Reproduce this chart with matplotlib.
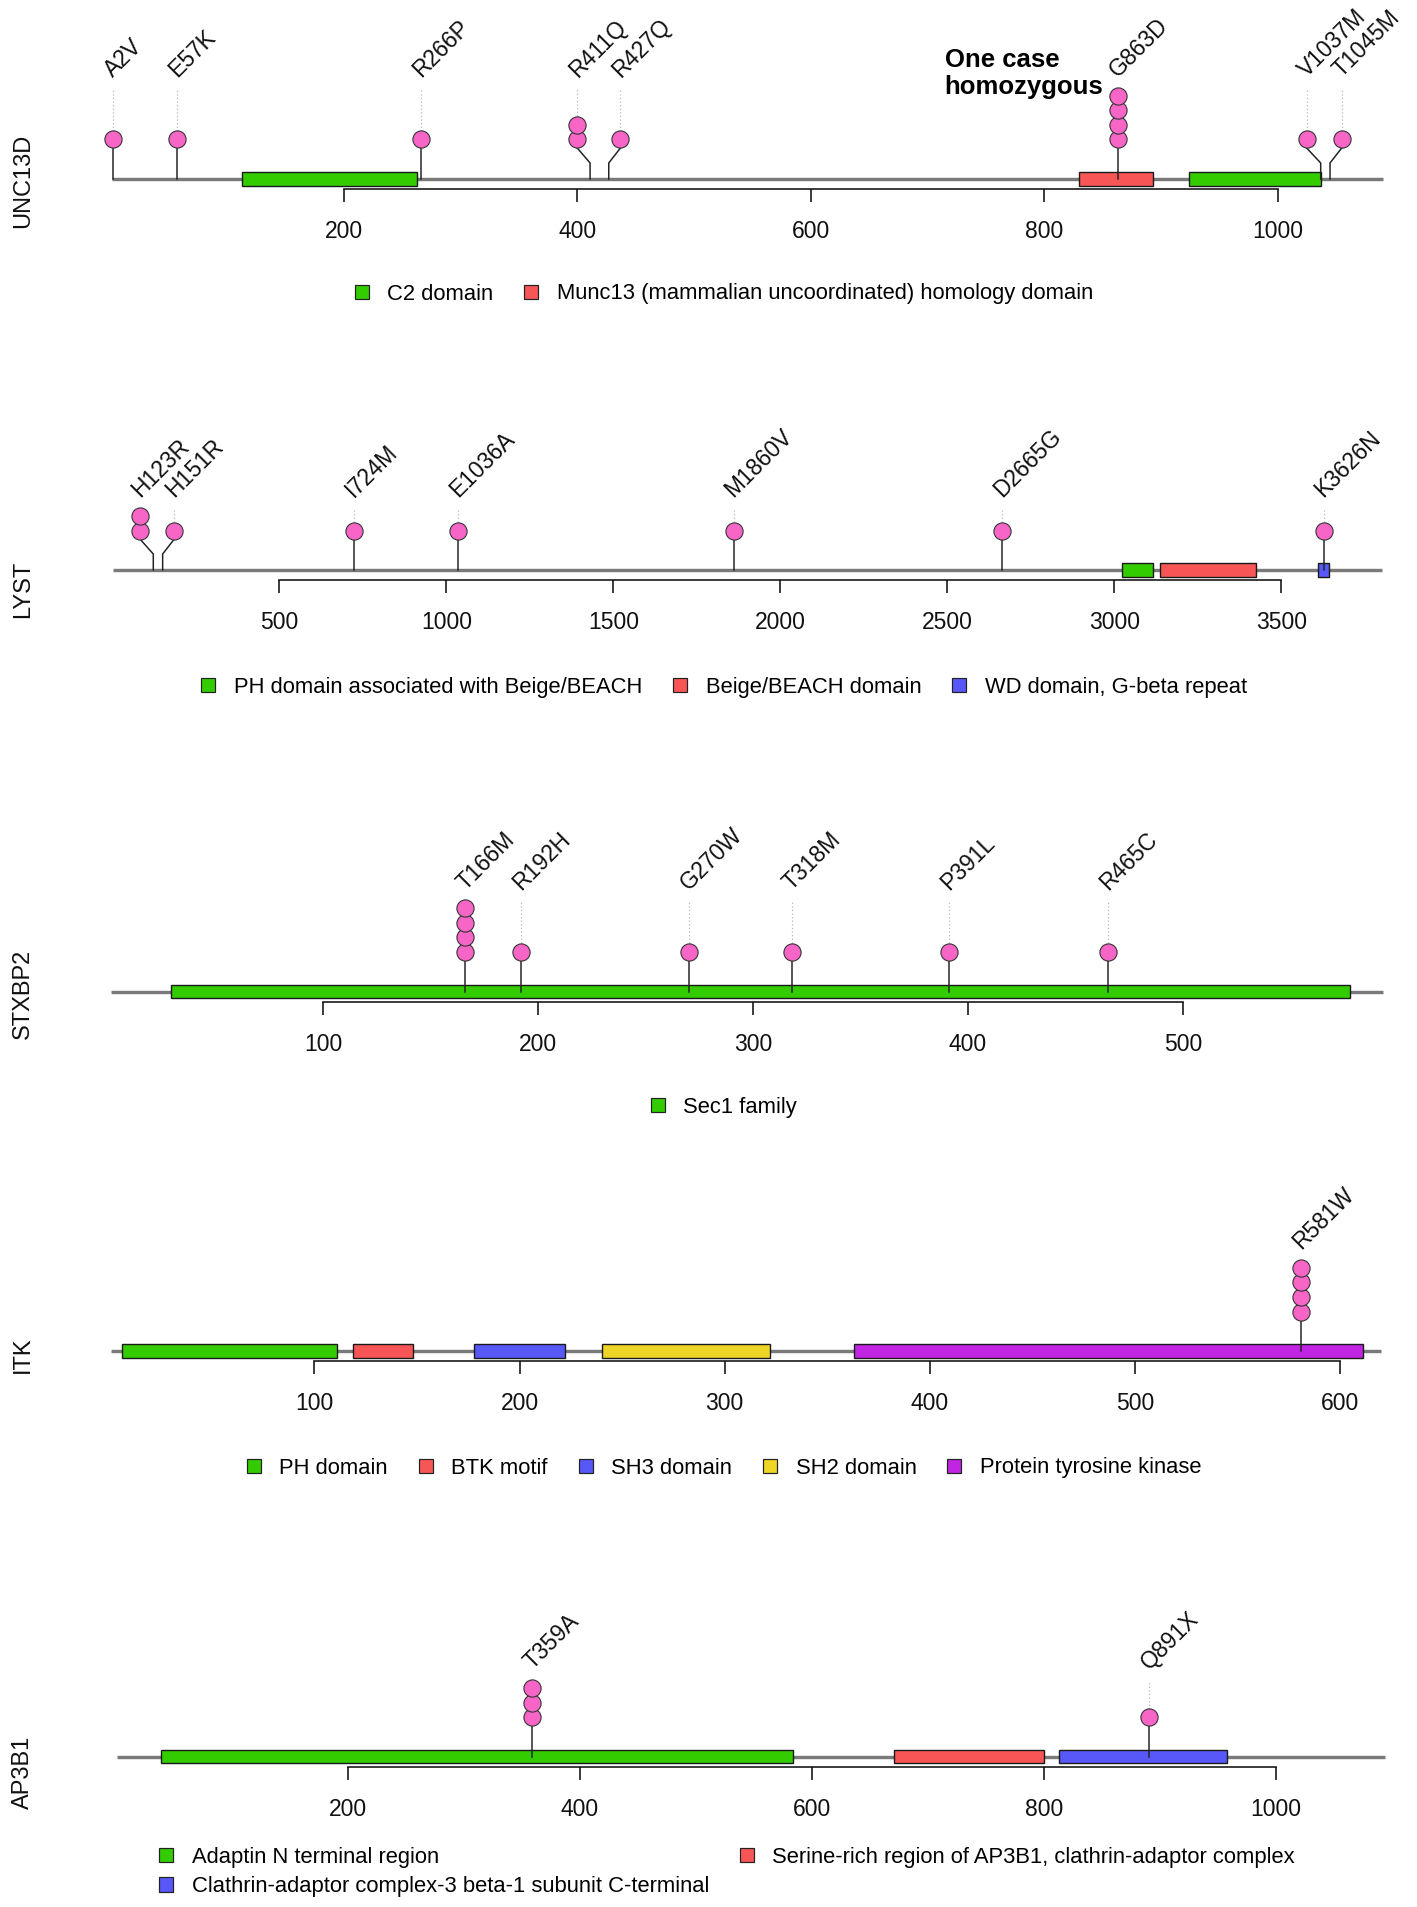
import matplotlib
matplotlib.use('Agg')
import matplotlib.pyplot as plt
from matplotlib.patches import Rectangle
import numpy as np

plt.rcParams['font.family'] = ['Liberation Sans', 'DejaVu Sans']

# ---------------- DATA ----------------
# UNC13D
UNC13D_length = 1090
UNC13D_mut_labels = ['A2V', 'E57K', 'R266P', 'R411Q', 'R427Q', 'G863D', 'V1037M', 'T1045M']
UNC13D_mut_pos = [2, 57, 266, 411, 427, 863, 1037, 1045]
UNC13D_mut_count = [1, 1, 1, 2, 1, 4, 1, 1]
UNC13D_mut_shown = [2, 57, 266, 400, 437, 863, 1025, 1055]
UNC13D_dom_names = ['C2 domain', 'Munc13 (mammalian uncoordinated) homology domain', 'C2 domain']
UNC13D_dom_start = [113, 830, 924]
UNC13D_dom_end = [263, 893, 1037]
UNC13D_ticks = [200, 400, 600, 800, 1000]

# LYST
LYST_length = 3801
LYST_mut_labels = ['H123R', 'H151R', 'I724M', 'E1036A', 'M1860V', 'D2665G', 'K3626N']
LYST_mut_pos = [123, 151, 724, 1036, 1860, 2665, 3626]
LYST_mut_count = [2, 1, 1, 1, 1, 1, 1]
LYST_mut_shown = [83, 186, 724, 1036, 1860, 2665, 3626]
LYST_dom_names = ['PH domain associated with Beige/BEACH', 'Beige/BEACH domain', 'WD domain, G-beta repeat']
LYST_dom_start = [3024, 3137, 3608]
LYST_dom_end = [3116, 3424, 3643]
LYST_ticks = [500, 1000, 1500, 2000, 2500, 3000, 3500]

# STXBP2
STXBP2_length = 593
STXBP2_mut_labels = ['T166M', 'R192H', 'G270W', 'T318M', 'P391L', 'R465C']
STXBP2_mut_pos = [166, 192, 270, 318, 391, 465]
STXBP2_mut_count = [4, 1, 1, 1, 1, 1]
STXBP2_mut_shown = [166, 192, 270, 318, 391, 465]
STXBP2_dom_names = ['Sec1 family']
STXBP2_dom_start = [29]
STXBP2_dom_end = [578]
STXBP2_ticks = [100, 200, 300, 400, 500]

# ITK
ITK_length = 620
ITK_mut_labels = ['R581W']
ITK_mut_pos = [581]
ITK_mut_count = [4]
ITK_mut_shown = [581]
ITK_dom_names = ['PH domain', 'BTK motif', 'SH3 domain', 'SH2 domain', 'Protein tyrosine kinase']
ITK_dom_start = [6, 119, 178, 240, 363]
ITK_dom_end = [111, 148, 222, 322, 611]
ITK_ticks = [100, 200, 300, 400, 500, 600]

# AP3B1
AP3B1_length = 1094
AP3B1_mut_labels = ['T359A', 'Q891X']
AP3B1_mut_pos = [359, 891]
AP3B1_mut_count = [3, 1]
AP3B1_mut_shown = [359, 891]
AP3B1_dom_names = ['Adaptin N terminal region',
                   'Serine-rich region of AP3B1, clathrin-adaptor complex',
                   'Clathrin-adaptor complex-3 beta-1 subunit C-terminal']
AP3B1_dom_start = [39, 671, 813]
AP3B1_dom_end = [584, 800, 958]
AP3B1_ticks = [200, 400, 600, 800, 1000]

ANNOT_TEXT = 'One case\nhomozygous'

# ---------------- STYLE / LAYOUT ----------------
GREEN = '#33CC00'
RED = '#F85656'
BLUE = '#5858F8'
YELLOW = '#EED526'
PURPLE = '#C124E2'
PINK = '#F766C6'

W, H = 1417, 1907
PX = 72 / 100.0  # points per pixel

HEAD0 = 39.5   # head centre above backbone (px)
STEP = 14.6    # stacking step (px)
RAD = 8.6      # head radius (px)

TICK_FS = 16.5
LAB_FS = 16.5
LEG_FS = 15.8
GENE_FS = 17

fig = plt.figure(figsize=(W / 100, H / 100), dpi=100)


def draw_panel(gene, length, mlabels, mpos, mcount, mshown, dnames, dstart, dend, dcols,
               ticks, x0, ppa, yb, ylab_y, leg_y, leg_order, leg_ncol, leg_x=724):
    ax = fig.add_axes([0, 0, 1, 1])
    ax.set_xlim(-x0 / ppa, (W - x0) / ppa)
    ax.set_ylim(yb - H, yb)  # y = pixels above backbone
    ax.patch.set_visible(False)
    for s in ['left', 'right', 'top']:
        ax.spines[s].set_visible(False)
    ax.spines['bottom'].set_position(('data', -10))
    ax.spines['bottom'].set_bounds(ticks[0], ticks[-1])
    ax.spines['bottom'].set_linewidth(1.6 * PX)
    ax.spines['bottom'].set_color('#111111')
    ax.set_xticks(ticks)
    ax.set_xticklabels([str(t) for t in ticks])
    ax.set_yticks([])
    ax.tick_params(axis='x', direction='out', length=13 * PX, width=1.6 * PX,
                   pad=13, labelsize=TICK_FS, colors='#111111')

    # backbone
    ax.plot([1, length], [0, 0], color='#7a7a7a', lw=3.4 * PX, solid_capstyle='butt', zorder=1)

    # domains
    for s, e, c in zip(dstart, dend, dcols):
        ax.add_patch(Rectangle((s, -6.7), e - s, 13.4, facecolor=c, edgecolor='#1a1a1a',
                               lw=1.4 * PX, zorder=2))

    # lollipops
    maxstack = max(mcount)
    label_base = HEAD0 + (maxstack - 1) * STEP + 17.5
    for lab, p, n, sp in zip(mlabels, mpos, mcount, mshown):
        if sp == p:
            ax.plot([p, p], [0, HEAD0 - RAD], color='#222222', lw=1.5 * PX, zorder=3)
        else:
            ax.plot([p, p, sp, sp], [0, 16, 31, HEAD0 - RAD], color='#222222',
                    lw=1.5 * PX, zorder=3)
        ys = HEAD0 + STEP * np.arange(n)
        ax.scatter([sp] * n, ys, s=(2 * RAD * PX) ** 2, c=PINK, edgecolors='#333333',
                   linewidths=1.1 * PX, zorder=5)
        top = ys[-1] + RAD
        if top < label_base - 10:
            ax.plot([sp, sp], [top, label_base - 10], ls=(0, (1, 2)), color='#b5b5b5',
                    lw=1.2 * PX, zorder=2)
        ax.text(sp, label_base, lab, rotation=45, rotation_mode='anchor', ha='left',
                va='baseline', fontsize=LAB_FS, color='#111111')

    # gene name
    fig.text(23 / W, 1 - ylab_y / H, gene, rotation=90, ha='center', va='center',
             fontsize=GENE_FS, color='#111111')

    # legend
    seen = []
    handles, names = [], []
    for nm, c in zip(dnames, dcols):
        if nm in seen:
            continue
        seen.append(nm)
        handles.append(Rectangle((0, 0), 1, 1, facecolor=c, edgecolor='#222222', lw=1.2 * PX))
        names.append(nm)
    handles = [handles[i] for i in leg_order]
    names = [names[i] for i in leg_order]
    ax.legend(handles, names, loc='center', bbox_to_anchor=(leg_x / W, 1 - leg_y / H),
              bbox_transform=fig.transFigure, ncol=leg_ncol, frameon=False, fontsize=LEG_FS,
              handlelength=0.64, handleheight=0.64, handletextpad=0.85, columnspacing=1.4,
              borderpad=0, borderaxespad=0, labelspacing=0.38)
    return ax


ax1 = draw_panel('UNC13D', UNC13D_length, UNC13D_mut_labels, UNC13D_mut_pos, UNC13D_mut_count,
                 UNC13D_mut_shown, UNC13D_dom_names, UNC13D_dom_start, UNC13D_dom_end,
                 [GREEN, RED, GREEN], UNC13D_ticks,
                 x0=110.4, ppa=1.1671, yb=179, ylab_y=181, leg_y=294, leg_order=[0, 1], leg_ncol=2)

# annotation (bold)
ax1.text((944.6 - 110.4) / 1.1671, 105.5, ANNOT_TEXT, ha='left', va='center', fontsize=18.5,
         fontweight='bold', linespacing=1.2, color='black')

draw_panel('LYST', LYST_length, LYST_mut_labels, LYST_mut_pos, LYST_mut_count, LYST_mut_shown,
           LYST_dom_names, LYST_dom_start, LYST_dom_end, [GREEN, RED, BLUE], LYST_ticks,
           x0=112.2, ppa=0.33407, yb=570, ylab_y=589, leg_y=687, leg_order=[0, 1, 2], leg_ncol=3)

draw_panel('STXBP2', STXBP2_length, STXBP2_mut_labels, STXBP2_mut_pos, STXBP2_mut_count,
           STXBP2_mut_shown, STXBP2_dom_names, STXBP2_dom_start, STXBP2_dom_end, [GREEN],
           STXBP2_ticks, x0=108.6, ppa=2.1485, yb=991.5, ylab_y=994, leg_y=1107,
           leg_order=[0], leg_ncol=1)

draw_panel('ITK', ITK_length, ITK_mut_labels, ITK_mut_pos, ITK_mut_count, ITK_mut_shown,
           ITK_dom_names, ITK_dom_start, ITK_dom_end, [GREEN, RED, BLUE, YELLOW, PURPLE],
           ITK_ticks, x0=109.3, ppa=2.0512, yb=1351, ylab_y=1355, leg_y=1468,
           leg_order=[0, 1, 2, 3, 4], leg_ncol=5)

draw_panel('AP3B1', AP3B1_length, AP3B1_mut_labels, AP3B1_mut_pos, AP3B1_mut_count,
           AP3B1_mut_shown, AP3B1_dom_names, AP3B1_dom_start, AP3B1_dom_end,
           [GREEN, RED, BLUE], AP3B1_ticks, x0=115.9, ppa=1.16, yb=1756.7, ylab_y=1772,
           leg_y=1872, leg_order=[0, 2, 1], leg_ncol=2, leg_x=727)

fig.savefig('out.png', dpi=100, facecolor='white')
